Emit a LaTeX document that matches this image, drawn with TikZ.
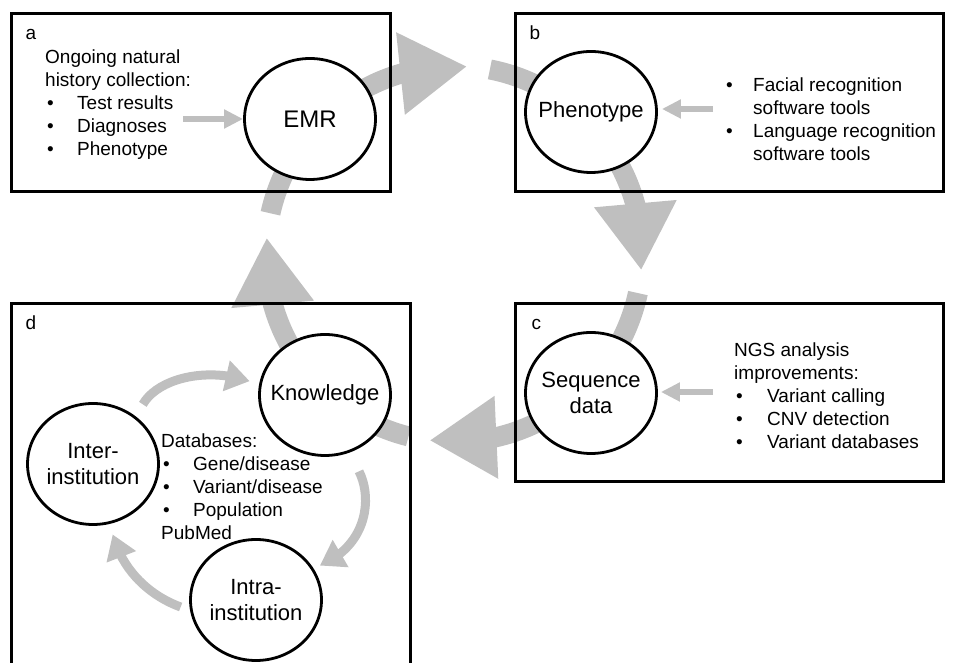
\documentclass[tikz,border=0pt]{standalone}
\usepackage{fontspec}
\setmainfont{Liberation Sans}
\usetikzlibrary{arrows.meta,bending,shapes.geometric,positioning}
\definecolor{arcgray}{RGB}{191,191,191}
\newcommand{\bul}[1][32pt]{\makebox[#1][l]{\hspace{2pt}\textbullet}}

\begin{document}
\begin{tikzpicture}[x=1pt,y=1pt,
  panel/.style={draw,line width=2.6pt,inner sep=0pt,outer sep=0pt,anchor=north west},
  bubble/.style={ellipse,draw,line width=2.8pt,fill=white,minimum width=131pt,minimum height=121pt,inner sep=-12pt,align=center,font=\fontsize{22}{26.5}\selectfont},
  txt/.style={inner sep=0pt,align=left,anchor=north west,font=\fontsize{19}{23}\selectfont},
  tag/.style={inner sep=0pt,anchor=base west,font=\fontsize{19}{23}\selectfont},
  bigarc/.style={draw=arcgray,line width=20pt},
  feed/.style={draw=arcgray,line width=6pt,-{Triangle[length=19pt,width=18pt]}},
  minor/.style={draw=arcgray,line width=9pt,-{Triangle[length=24pt,width=30pt]}}]
\clip (0,0) rectangle (956,663);

% main cycle
\coordinate (hub) at (454,409);
\foreach \s/\t/\u/\e in {137/86/79/46,46/-5/-12/-45,-45/-97.5/-104/-132.5,-132.5/-185/-192.5/-223}{
  \draw[bigarc,-{Triangle[length=67pt,width=78pt]}] (hub) ++(\s:188) arc[start angle=\s,end angle=\t,radius=188];
  \draw[bigarc] (hub) ++(\u:188) arc[start angle=\u,end angle=\e,radius=188];
}

% panels
\node[panel,minimum width=379pt,minimum height=178pt] (pa) at (11.3,649.7) {};
\node[panel,minimum width=428pt,minimum height=178pt] (pb) at (515.3,649.7) {};
\node[panel,minimum width=428pt,minimum height=178pt] (pc) at (515.3,359.7) {};
\node[panel,minimum width=399pt,minimum height=390pt] (pd) at (11.3,359.7) {};
\node[tag] (la) at ([shift={(14,-26)}]pa.north west) {a};
\node[tag] (lb) at ([shift={(14,-26)}]pb.north west) {b};
\node[tag] (lc) at ([shift={(16,-26)}]pc.north west) {c};
\node[tag] (ld) at ([shift={(14,-26)}]pd.north west) {d};

% circles
\node[bubble,font=\fontsize{24}{28}\selectfont] (emr) at (310,544) {EMR};
\node[bubble] (pheno) at (591,551) {Phenotype};
\node[bubble] (seq) at (591,270) {Sequence\\data};
\node[bubble] (know) at (325,268) {Knowledge};
\node[bubble] (inter) at (93,199) {Inter-\\institution};
\node[bubble] (intra) at (256,63) {Intra-\\institution};

% inputs
\coordinate (ain) at (183,544);
\coordinate (bin) at (713,554);
\coordinate (cin) at (713,271);
\draw[feed] (ain) -- (emr.west);
\draw[feed,shorten >=4pt] (bin) -- (bin -| pheno.east);
\draw[feed,shorten >=3pt] (cin) -- (cin -| seq.east);

% inner cycle
\draw[minor,shorten <=14pt,shorten >=10pt] (inter.48) to[out=60,in=158] (know.171);
\draw[minor,shorten <=21pt,shorten >=7pt] (know.-67) to[out=-63,in=20,looseness=1.2] (intra.29);
\draw[minor,shorten <=10pt,shorten >=11pt] (intra.189) to[out=160,in=-79] (inter.-74);

% texts
\node[txt] (hista) at (45,613) {Ongoing natural\\history collection:\\\bul Test results\\\bul Diagnoses\\\bul Phenotype};
\node[txt] (toolb) at (724,585) {\bul[29pt]Facial recognition\\\hspace*{29pt}software tools\\\bul[29pt]Language recognition\\\hspace*{29pt}software tools};
\node[txt] (ngsc) at (734,320) {NGS analysis\\improvements:\\\bul[33pt]Variant calling\\\bul[33pt]CNV detection\\\bul[33pt]Variant databases};
\node[txt] (dbd) at (161,229) {Databases:\\\bul Gene/disease\\\bul Variant/disease\\\bul Population\\PubMed};
\end{tikzpicture}
\end{document}
